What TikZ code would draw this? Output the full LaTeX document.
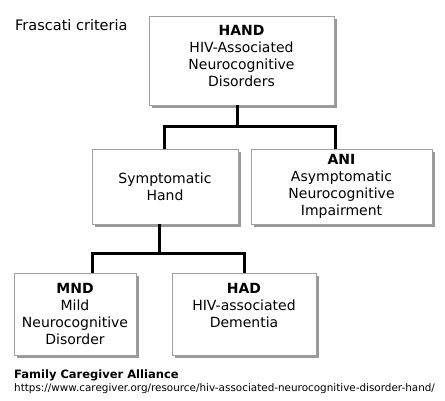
\documentclass[tikz,border=0pt]{standalone}
\usepackage{fontspec}
\setmainfont{DejaVu Sans}
\usetikzlibrary{shadows}

\begin{document}
\begin{tikzpicture}[x=1pt, y=-1pt,
    box/.style={draw=gray!75, line width=0.8pt, fill=white, align=center,
      inner sep=0pt, font=\fontsize{14}{17}\selectfont,
      drop shadow={shadow xshift=2.5pt, shadow yshift=-2.5pt, fill=black, opacity=0.4}},
    link/.style={line width=3pt, line join=miter}]
    \useasboundingbox (0,0) rectangle (445,400);
    \node[anchor=west, inner sep=0pt, font=\fontsize{14.5}{17}\selectfont] (title) at (15, 25) {Frascati criteria};
    \node[box, minimum width=185, minimum height=89] (hand) at (241.5, 60.5) {\textbf{HAND}\\HIV-Associated\\Neurocognitive\\Disorders\\[-8pt]\mbox{}};
    \node[box, minimum width=146, minimum height=75] (sym) at (165, 186.5) {Symptomatic\\Hand};
    \node[box, minimum width=181, minimum height=75] (ani) at (341.5, 186.5) {\textbf{ANI}\\Asymptomatic\\Neurocognitive\\Impairment};
    \node[box, minimum width=122, minimum height=82] (mnd) at (75, 314) {\textbf{MND}\\Mild\\Neurocognitive\\Disorder};
    \node[box, minimum width=144, minimum height=82] (had) at (244, 314) {\textbf{HAD}\\HIV-associated\\Dementia\\\phantom{X}};
    \draw[link] ([xshift=-4.5pt]hand.south) -- ++(0, 21) coordinate (j1);
    \draw[link] ([xshift=-1pt]sym.north) |- (j1) -| ([xshift=-6.5pt]ani.north);
    \draw[link] ([xshift=-6pt]sym.south) -- ++(0, 29) coordinate (j2);
    \draw[link] ([xshift=17pt]mnd.north) |- (j2) -| (had.north);
    \node[anchor=west, inner sep=0pt, font=\bfseries\fontsize{11.5}{13}\selectfont] (fca) at (14, 375) {Family Caregiver Alliance};
    \node[anchor=west, inner sep=0pt, font=\fontsize{10.4}{12}\selectfont] (url) at (14, 389) {https://www.caregiver.org/resource/hiv-associated-neurocognitive-disorder-hand/};
\end{tikzpicture}
\end{document}
